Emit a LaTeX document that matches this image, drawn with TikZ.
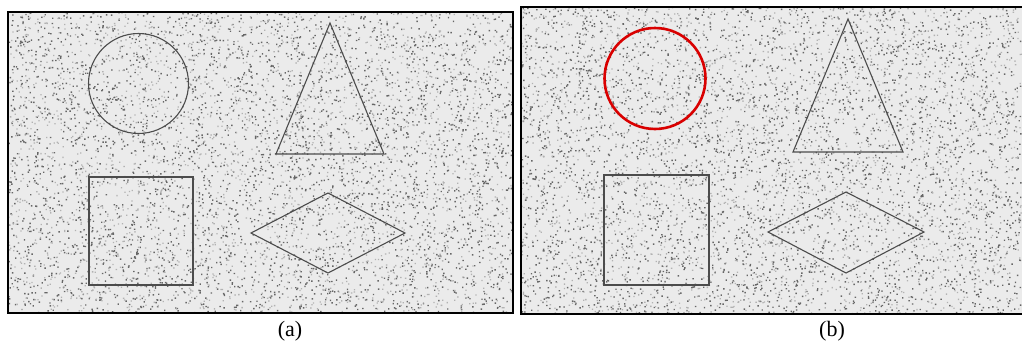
\documentclass[tikz,border=0pt]{standalone}
\usepackage{fontspec}
\setmainfont{Liberation Serif}
\begin{document}
\begin{tikzpicture}[x=1pt,y=-1pt,
  outl/.style={draw=black!70,line width=1.1pt},
  frame/.style={draw=black,line width=1.6pt},
  grain/.style={fill=black!60},
  grainl/.style={fill=black!30},
  captxt/.style={font=\fontsize{22}{24}\selectfont,inner sep=0pt}]
\useasboundingbox (0,0) rectangle (1022,346);
\pgfmathsetseed{4711}
% panel (a)
\fill[black!8] (8,12) rectangle (513,313);
\fill[grain] \foreach \i in {1,...,3600}{({8+504*rnd},{12+300*rnd}) rectangle +(1.4,1.4)};
\fill[grainl] \foreach \i in {1,...,2600}{({8+504*rnd},{12+300*rnd}) rectangle +(1.3,1.3)};
\draw[frame] (8,12) rectangle (513,313);
\draw[outl] (138.5,83.5) circle (50);
\draw[outl] (330,23) -- (276,154) -- (384,154) -- cycle;
\draw[outl] (89,177) rectangle (193,285);
\draw[outl] (251,233) -- (328,193) -- (405,233) -- (328,273) -- cycle;
\node[captxt] (la) at (290,331) {(a)};
% panel (b)
\fill[black!8] (521,7) rectangle (1022,314);
\fill[grain] \foreach \i in {1,...,3600}{({521+500*rnd},{7+306*rnd}) rectangle +(1.4,1.4)};
\fill[grainl] \foreach \i in {1,...,2600}{({521+500*rnd},{7+306*rnd}) rectangle +(1.3,1.3)};
\draw[frame] (1022.8,7) -- (521,7) -- (521,314) -- (1022.8,314);
\draw[red!85!black,line width=2.6pt] (655,78.5) circle (50.5);
\draw[outl] (848,19) -- (793,152) -- (903,152) -- cycle;
\draw[outl] (604,175) rectangle (709,285);
\draw[outl] (768,232) -- (846,192) -- (924,232) -- (846,273) -- cycle;
\node[captxt] (lb) at (832,331) {(b)};
\end{tikzpicture}
\end{document}
